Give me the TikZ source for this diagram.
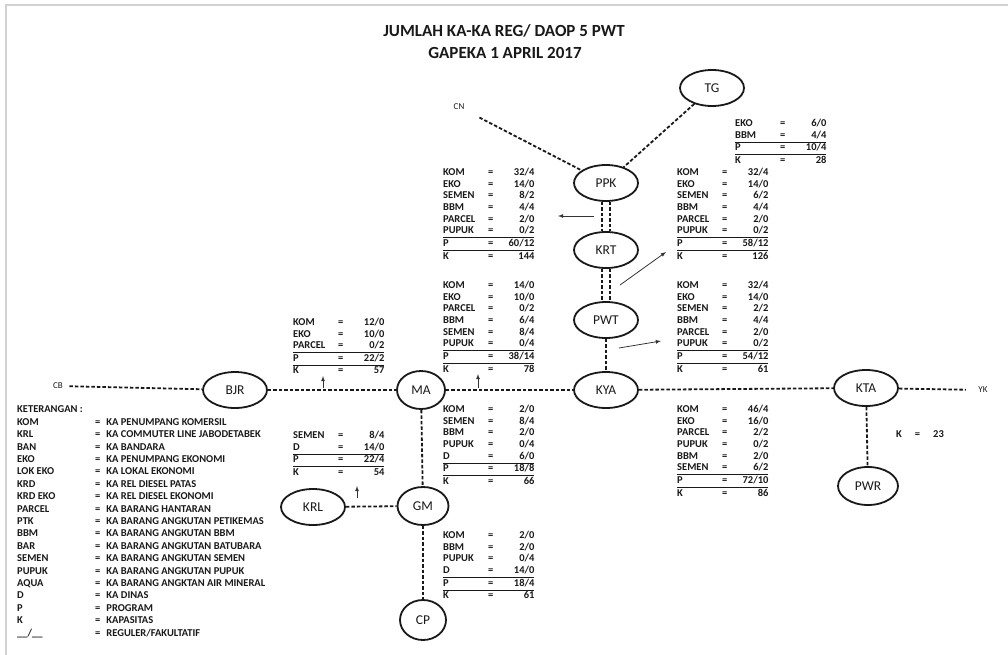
\documentclass[tikz,border=0pt]{standalone}
\usepackage{fontspec}
\setmainfont{Carlito}
\usepackage{array}
\usepackage{tikz}
\usetikzlibrary{shapes.geometric, arrows}
\usetikzlibrary{positioning}

% one block of train counts: name, =, regular/optional
\newcommand{\rekap}[1]{\begin{tabular}{@{}p{45pt}@{}c@{}>{\raggedleft\arraybackslash}p{41pt}@{}}#1\end{tabular}}
\setlength{\arrayrulewidth}{0.9pt}

\begin{document}
\begin{tikzpicture}[x=1pt, y=-1pt,
        every node/.style={text=black!90},
        station/.style={draw=black!90, ellipse, line width=1.8pt, inner sep=0pt,
                        minimum width=64pt, minimum height=36pt,
                        font=\fontsize{13.5}{15}\selectfont},
        track/.style={draw=black!90, dash pattern=on 3.5pt off 2pt, line width=1.8pt},
        pointer/.style={draw=black!80, -latex, line width=0.8pt},
        lbl/.style={font=\fontsize{9}{10}\selectfont},
        tbl/.style={anchor=north west, inner sep=0pt, font=\bfseries\fontsize{10.5}{11.7}\selectfont}]

        \useasboundingbox (0,0) rectangle (1008,655);

        % page edge
        \draw[gray!35, line width=1.5pt] (6,655) -- (6,5) -- (1008,5);

        % Title
        \node (judul) [font=\bfseries\fontsize{17}{19}\selectfont] at (504,31) {JUMLAH KA-KA REG/ DAOP 5 PWT};
        \node (gapeka) [font=\bfseries\fontsize{17}{19}\selectfont] at (505,53) {GAPEKA 1 APRIL 2017};

        % Stations
        \node (tg)  [station] at (712,88)  {TG};
        \node (ppk) [station] at (606,183) {PPK};
        \node (krt) [station] at (606,250) {KRT};
        \node (pwt) [station] at (606,320) {PWT};
        \node (kya) [station] at (606,390) {KYA};
        \node (kta) [station] at (866,388) {KTA};
        \node (pwr) [station, minimum width=60pt, minimum height=38pt] at (868,486) {PWR};
        \node (bjr) [station] at (235,390) {BJR};
        \node (ma)  [station, minimum width=48pt, minimum height=38pt] at (421,390) {MA};
        \node (gm)  [station, minimum width=51pt, minimum height=38pt] at (423,506) {GM};
        \node (krl) [station] at (313,507) {KRL};
        \node (cp)  [station, minimum width=46pt, minimum height=40pt] at (423,620) {CP};

        % Line ends
        \node (cn) [lbl] at (459,107) {CN};
        \node (cb) [lbl] at (58,386)  {CB};
        \node (yk) [lbl] at (983,390) {YK};

        % Main line CB - YK
        \draw[track, shorten <=3pt] (cb) -- (bjr);
        \draw[track] (bjr) -- (ma);
        \draw[track] (ma) -- (kya);
        \draw[track] (kya) -- (kta);
        \draw[track, shorten >=9pt] (kta) -- (yk);

        % Branch to the north (double track PPK - PWT)
        \draw[track, shorten <=13pt] (cn) -- (ppk);
        \draw[track] (tg) -- (ppk);
        \draw[track] ([xshift=-4pt]ppk.south) -- ([xshift=-4pt]krt.north);
        \draw[track] ([xshift=4pt]ppk.south)  -- ([xshift=4pt]krt.north);
        \draw[track] ([xshift=-4pt]krt.south) -- ([xshift=-4pt]pwt.north);
        \draw[track] ([xshift=4pt]krt.south)  -- ([xshift=4pt]pwt.north);
        \draw[track] (pwt) -- (kya);

        % Branches to the south
        \draw[track] (ma) -- (gm);
        \draw[track] (krl) -- (gm);
        \draw[track] (gm) -- (cp);
        \draw[track] (kta) -- (pwr);

        % Small arrows pointing at the tables
        \coordinate (a1s) at (594,216);  \coordinate (a1e) at (558,216);
        \coordinate (a2s) at (620,285);  \coordinate (a2e) at (666,252);
        \coordinate (a3s) at (619,348);  \coordinate (a3e) at (661,341);
        \coordinate (a4s) at (323,388);  \coordinate (a4e) at (323,376);
        \coordinate (a5s) at (478,388);  \coordinate (a5e) at (478,374);
        \coordinate (a6s) at (357,498);  \coordinate (a6e) at (357,486);
        \draw[pointer] (a1s) -- (a1e);
        \draw[pointer] (a2s) -- (a2e);
        \draw[pointer] (a3s) -- (a3e);
        \draw[pointer] (a4s) -- (a4e);
        \draw[pointer] (a5s) -- (a5e);
        \draw[pointer] (a6s) -- (a6e);

        % Tables
        \node (ttg) [tbl] at (735,118) {\rekap{EKO & = & 6/0\\ BBM & = & 4/4\\ \hline P & = & 10/4\\ \hline K & = & 28\\}};
        \node (tppk) [tbl] at (443,167) {\rekap{KOM & = & 32/4\\ EKO & = & 14/0\\ SEMEN & = & 8/2\\ BBM & = & 4/4\\
                PARCEL & = & 2/0\\ PUPUK & = & 0/2\\ \hline P & = & 60/12\\ \hline K & = & 144\\}};
        \node (tkrt) [tbl] at (677,167) {\rekap{KOM & = & 32/4\\ EKO & = & 14/0\\ SEMEN & = & 6/2\\ BBM & = & 4/4\\
                PARCEL & = & 2/0\\ PUPUK & = & 0/2\\ \hline P & = & 58/12\\ \hline K & = & 126\\}};
        \node (tma) [tbl] at (443,280) {\rekap{KOM & = & 14/0\\ EKO & = & 10/0\\ PARCEL & = & 0/2\\ BBM & = & 6/4\\
                SEMEN & = & 8/4\\ PUPUK & = & 0/4\\ \hline P & = & 38/14\\ \hline K & = & 78\\}};
        \node (tpwt) [tbl] at (677,280) {\rekap{KOM & = & 32/4\\ EKO & = & 14/0\\ SEMEN & = & 2/2\\ BBM & = & 4/4\\
                PARCEL & = & 2/0\\ PUPUK & = & 0/2\\ \hline P & = & 54/12\\ \hline K & = & 61\\}};
        \node (tbjr) [tbl] at (293,317) {\rekap{KOM & = & 12/0\\ EKO & = & 10/0\\ PARCEL & = & 0/2\\
                \hline P & = & 22/2\\ \hline K & = & 57\\}};
        \node (tmagm) [tbl] at (443,404) {\rekap{KOM & = & 2/0\\ SEMEN & = & 8/4\\ BBM & = & 2/0\\ PUPUK & = & 0/4\\
                D & = & 6/0\\ \hline P & = & 18/8\\ \hline K & = & 66\\}};
        \node (tkrl) [tbl] at (293,430) {\rekap{SEMEN & = & 8/4\\ D & = & 14/0\\ \hline P & = & 22/4\\ \hline K & = & 54\\}};
        \node (tkya) [tbl] at (677,404) {\rekap{KOM & = & 46/4\\ EKO & = & 16/0\\ PARCEL & = & 2/2\\ PUPUK & = & 0/2\\
                BBM & = & 2/0\\ SEMEN & = & 6/2\\ \hline P & = & 72/10\\ \hline K & = & 86\\}};
        \node (tcp) [tbl] at (443,530) {\rekap{KOM & = & 2/0\\ BBM & = & 2/0\\ PUPUK & = & 0/4\\ D & = & 14/0\\
                \hline P & = & 18/4\\ \hline K & = & 61\\}};
        \node (tpwr) [tbl, anchor=west] at (896,434) {K\hspace{13pt}=\hspace{13pt}23};

        % Legend
        \node (ket) [tbl, font=\bfseries\fontsize{10.5}{12.4}\selectfont] at (17,404) {%
            \begin{tabular}{@{}p{78pt}@{}l@{\hspace{6pt}}l@{}}
            \multicolumn{3}{@{}l}{KETERANGAN :}\\
            KOM & = & KA PENUMPANG KOMERSIL\\
            KRL & = & KA COMMUTER LINE JABODETABEK\\
            BAN & = & KA BANDARA\\
            EKO & = & KA PENUMPANG EKONOMI\\
            LOK EKO & = & KA LOKAL EKONOMI\\
            KRD & = & KA REL DIESEL PATAS\\
            KRD EKO & = & KA REL DIESEL EKONOMI\\
            PARCEL & = & KA BARANG HANTARAN\\
            PTK & = & KA BARANG ANGKUTAN PETIKEMAS\\
            BBM & = & KA BARANG ANGKUTAN BBM\\
            BAR & = & KA BARANG ANGKUTAN BATUBARA\\
            SEMEN & = & KA BARANG ANGKUTAN SEMEN\\
            PUPUK & = & KA BARANG ANGKUTAN PUPUK\\
            AQUA & = & KA BARANG ANGKTAN AIR MINERAL\\
            D & = & KA DINAS\\
            P & = & PROGRAM\\
            K & = & KAPASITAS\\
            \_\_/\_\_ & = & REGULER/FAKULTATIF\\
            \end{tabular}};
\end{tikzpicture}
\end{document}
